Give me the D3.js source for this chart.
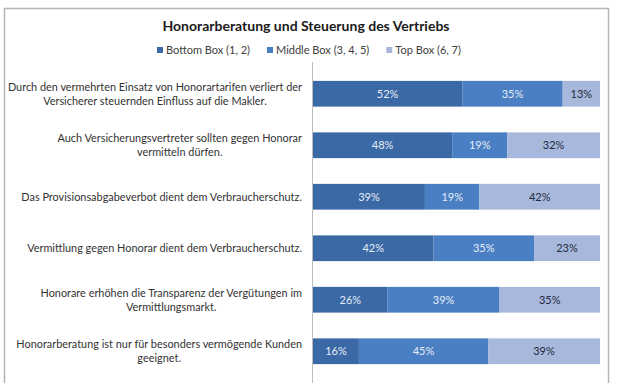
<!DOCTYPE html>
<html lang="de">
<head>
  <meta charset="utf-8">
  <title>Honorarberatung und Steuerung des Vertriebs</title>
  <script src="https://d3js.org/d3.v7.min.js"></script>
  <style>
    body { margin: 0; background: #fff; }
    svg { font-family: Lato, "Open Sans", sans-serif; }
    .title { font-size: 14px; font-weight: bold; fill: #1a1a1a; text-anchor: middle; }
    .legend text { font-size: 11px; fill: #404040; }
    .cat { font-size: 10.9px; fill: #333; text-anchor: middle; }
    .val { font-size: 11px; text-anchor: middle; }
  </style>
</head>
<body>
  <div id="chart"></div>
  <script>
    var w = 621;
    var h = 383;

    var categories = [
      ['Durch den vermehrten Einsatz von Honorartarifen verliert der', 'Versicherer steuernden Einfluss auf die Makler.'],
      ['Auch Versicherungsvertreter sollten gegen Honorar', 'vermitteln dürfen.'],
      ['Das Provisionsabgabeverbot dient dem Verbraucherschutz.'],
      ['Vermittlung gegen Honorar dient dem Verbraucherschutz.'],
      ['Honorare erhöhen die Transparenz der Vergütungen im', 'Vermittlungsmarkt.'],
      ['Honorarberatung ist nur für besonders vermögende Kunden', 'geeignet.']
    ];
    var seriesNames = ['Bottom Box (1, 2)', 'Middle Box (3, 4, 5)', 'Top Box (6, 7)'];
    var bottomBox = [52, 48, 39, 42, 26, 16];
    var middleBox = [35, 19, 19, 35, 39, 45];
    var topBox = [13, 32, 42, 23, 35, 39];

    var colors = ['#3b69a6', '#4a7fc4', '#a8b8dc'];
    var textColors = ['#e6edf7', '#e6edf7', '#1f2a40'];

    // table for d3.stack
    var rows = categories.map(function (c, i) {
      return { idx: i, b: bottomBox[i], m: middleBox[i], t: topBox[i] };
    });
    var keys = ['b', 'm', 't'];
    var stacked = d3.stack().keys(keys).offset(d3.stackOffsetExpand)(rows);

    var svg = d3.select('#chart').append('svg')
      .attr('width', w)
      .attr('height', h);

    // chart frame
    svg.append('rect')
      .attr('x', 4.5).attr('y', 8.5)
      .attr('width', 604).attr('height', 400)
      .attr('fill', 'none')
      .attr('stroke', '#b5b5b5')
      .attr('stroke-width', 1.5);

    svg.append('text')
      .attr('class', 'title')
      .attr('x', 306).attr('y', 31)
      .text('Honorarberatung und Steuerung des Vertriebs');

    var x = d3.scaleLinear().domain([0, 1]).range([313, 600]);
    var y = d3.scaleBand()
      .domain(d3.range(categories.length))
      .range([68, 377])
      .paddingInner(0.5)
      .paddingOuter(0.25);

    // legend
    var legend = svg.append('g').attr('class', 'legend');
    var lx = 157;
    seriesNames.forEach(function (name, i) {
      var g = legend.append('g').attr('transform', 'translate(' + lx + ',0)');
      g.append('rect').attr('x', 0).attr('y', 47).attr('width', 6).attr('height', 6).attr('fill', colors[i]);
      var t = g.append('text').attr('x', 9).attr('y', 54).text(name);
      lx += 9 + t.node().getComputedTextLength() + 17;
    });

    // bars
    var layer = svg.selectAll('g.layer')
      .data(stacked)
      .enter().append('g')
      .attr('class', 'layer')
      .attr('fill', function (d, i) { return colors[i]; });

    layer.selectAll('rect')
      .data(function (d) { return d; })
      .enter().append('rect')
      .attr('x', function (d) { return x(d[0]); })
      .attr('y', function (d) { return y(d.data.idx); })
      .attr('width', function (d) { return x(d[1]) - x(d[0]); })
      .attr('height', y.bandwidth());

    layer.each(function (s, si) {
      d3.select(this).selectAll('text.val')
        .data(s)
        .enter().append('text')
        .attr('class', 'val')
        .attr('fill', textColors[si])
        .attr('x', function (d) { return (x(d[0]) + x(d[1])) / 2; })
        .attr('y', function (d) { return y(d.data.idx) + y.bandwidth() / 2; })
        .attr('dy', '0.35em')
        .text(function (d) { return d.data[s.key] + '%'; });
    });

    // vertical category axis
    svg.append('line')
      .attr('x1', 312.5).attr('x2', 312.5)
      .attr('y1', 62).attr('y2', h)
      .attr('stroke', '#bcbcbc');

    // category labels: centered block, right aligned to axis
    var lineH = 14;
    categories.forEach(function (lines, i) {
      var g = svg.append('g');
      var cy = y(i) + y.bandwidth() / 2;
      var texts = lines.map(function (l, k) {
        return g.append('text')
          .attr('class', 'cat')
          .attr('y', cy + (k - (lines.length - 1) / 2) * lineH)
          .attr('dy', '0.35em')
          .text(l);
      });
      var maxW = d3.max(texts, function (t) { return t.node().getComputedTextLength(); });
      texts.forEach(function (t) { t.attr('x', 302 - maxW / 2); });
    });
  </script>
</body>
</html>
